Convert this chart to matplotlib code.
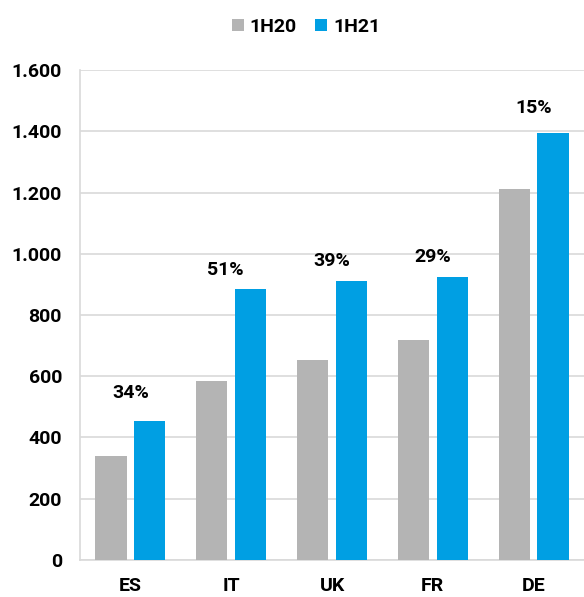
import matplotlib.pyplot as plt
import numpy as np

plt.rcParams['font.family'] = ['Roboto', 'DejaVu Sans']
plt.rcParams['font.weight'] = 'bold'

countries = ['ES', 'IT', 'UK', 'FR', 'DE']
h1_2020 = [340, 585, 654, 717, 1213]
h1_2021 = [455, 886, 910, 923, 1393]
growth = ['34%', '51%', '39%', '29%', '15%']

gray = '#b4b4b4'
blue = '#009fe3'

# label placement above the 1H21 bar (points)
label_dy = [16.5, 10, 11, 11, 15]
label_dx = [0, -4, 0, 0, 0]

fig = plt.figure(figsize=(5.84, 5.97), dpi=100)
ax = fig.add_axes([0.137, 0.062, 0.863, 0.8207])

x = np.arange(len(countries))
w = 0.31
off = 0.193
ax.bar(x - off, h1_2020, w, color=gray, label='1H20', zorder=3)
ax.bar(x + off, h1_2021, w, color=blue, label='1H21', zorder=3)

# growth labels above each pair
for xi, v, g, dy, dx in zip(x, h1_2021, growth, label_dy, label_dx):
    ax.annotate(g, (xi, v), xytext=(dx, dy), textcoords='offset points',
                ha='center', va='baseline', fontsize=14, fontweight='bold')

ax.set_xlim(-0.5, len(countries) - 0.5)
ax.set_ylim(0, 1600)
ax.set_yticks(range(0, 1601, 200))
ax.set_yticklabels([f'{v:,}'.replace(',', '.') for v in range(0, 1601, 200)])
ax.set_xticks(x)
ax.set_xticklabels(countries)
ax.tick_params(length=0, labelsize=14)
ax.tick_params(axis='y', pad=13)
ax.tick_params(axis='x', pad=12)
for lbl in ax.get_xticklabels() + ax.get_yticklabels():
    lbl.set_fontweight('bold')

ax.yaxis.grid(True, color='#d9d9d9', linewidth=1.2, zorder=0)
for s in ['top', 'right']:
    ax.spines[s].set_visible(False)
ax.spines['left'].set_color('#d9d9d9')
ax.spines['bottom'].set_color('#d9d9d9')
ax.spines['left'].set_linewidth(1.2)
ax.spines['bottom'].set_linewidth(1.2)

fig.legend(loc='center', bbox_to_anchor=(306 / 584, 1 - 27 / 597), ncol=2,
           frameon=False, handlelength=0.62, handleheight=0.62,
           handletextpad=0.3, columnspacing=0.93, prop={'weight': 'bold', 'size': 14})

fig.savefig('out.png', dpi=100)
